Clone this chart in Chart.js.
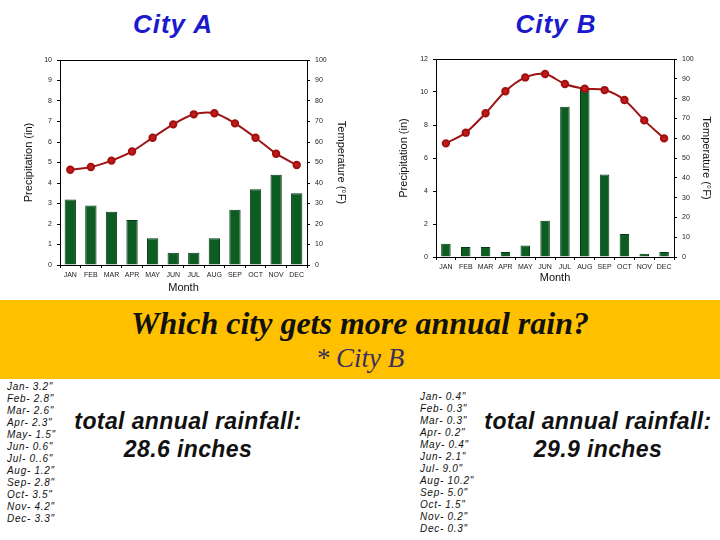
<!DOCTYPE html>
<html>
<head>
<meta charset="utf-8">
<script src="https://cdn.jsdelivr.net/npm/chart.js@4"></script>
<style>
  body { margin: 0; width: 720px; height: 540px; background: #fff; position: relative; overflow: hidden; font-family: "Liberation Sans", Arial, sans-serif; }
  .abs { position: absolute; }
  .city { color: #1a1acc; font-weight: bold; font-style: italic; font-size: 26px; letter-spacing: 1px; width: 200px; text-align: center; top: 9px; }
  #band { left: 0; top: 300px; width: 720px; height: 79px; background: #ffc000; }
  #q { left: 0; width: 720px; top: 305px; text-align: center; font-family: "Liberation Serif", "Times New Roman", serif; font-style: italic; font-weight: bold; font-size: 32px; color: #111; }
  #a { left: 0; width: 720px; top: 343px; text-align: center; font-family: "Liberation Serif", "Times New Roman", serif; font-style: italic; font-size: 27px; color: #3a2f5e; }
  .list { font-style: italic; font-size: 10px; line-height: 12px; letter-spacing: 0.7px; color: #111; }
  .tot { font-size: 23px; font-weight: bold; font-style: italic; letter-spacing: 0.4px; text-align: center; width: 280px; line-height: 28px; color: #111; }
</style>
</head>
<body>
<div class="abs city" style="left:73px">City A</div>
<div class="abs city" style="left:456px">City B</div>

<div class="abs" style="left:20px;top:45px;width:330px;height:250px"><canvas id="chartA"></canvas></div>
<div class="abs" style="left:395px;top:45px;width:320px;height:240px"><canvas id="chartB"></canvas></div>

<div class="abs" id="band"></div>
<div class="abs" id="q">Which city gets more annual rain?</div>
<div class="abs" id="a">* City B</div>

<div class="abs list" id="listA" style="left:7px;top:381px"></div>
<div class="abs tot" style="left:48px;top:407px">total annual rainfall:<br>28.6 inches</div>
<div class="abs list" id="listB" style="left:420px;top:391px"></div>
<div class="abs tot" style="left:458px;top:407px">total annual rainfall:<br>29.9 inches</div>

<script>
const months = ["JAN", "FEB", "MAR", "APR", "MAY", "JUN", "JUL", "AUG", "SEP", "OCT", "NOV", "DEC"];

// City A: precipitation (in) and temperature (F)
const precipA = [3.2, 2.9, 2.6, 2.2, 1.3, 0.6, 0.6, 1.3, 2.7, 3.7, 4.4, 3.5];
const tempA = [46.5, 47.8, 50.9, 55.4, 62.1, 68.6, 73.5, 74.0, 69.1, 62.1, 54.3, 48.8];

// City B
const precipB = [0.8, 0.6, 0.6, 0.3, 0.7, 2.2, 9.1, 10.2, 5.0, 1.4, 0.2, 0.3];
const tempB = [57.4, 62.8, 72.6, 83.7, 90.7, 92.4, 87.4, 85.0, 84.3, 79.3, 69.0, 59.9];

// monthly text lists under the band
const listA = ["Jan- 3.2\"", "Feb- 2.8\"", "Mar- 2.6\"", "Apr- 2.3\"", "May- 1.5\"", "Jun- 0.6\"", "Jul- 0..6\"", "Aug- 1.2\"", "Sep- 2.8\"", "Oct- 3.5\"", "Nov- 4.2\"", "Dec- 3.3\""];
const listB = ["Jan- 0.4\"", "Feb- 0.3\"", "Mar- 0.3\"", "Apr- 0.2\"", "May- 0.4\"", "Jun- 2.1\"", "Jul- 9.0\"", "Aug- 10.2\"", "Sep- 5.0\"", "Oct- 1.5\"", "Nov- 0.2\"", "Dec- 0.3\""];

document.getElementById("listA").innerHTML = listA.join("<br>");
document.getElementById("listB").innerHTML = listB.join("<br>");

const FONT = "'Liberation Sans', Arial, sans-serif";

// draws the top edge of the plot box
const framePlugin = {
  id: "frame",
  afterDraw(chart, args, opts) {
    if (!opts.top) return;
    const a = chart.chartArea, c = chart.ctx;
    c.save();
    c.strokeStyle = "#000";
    c.lineWidth = 1;
    c.beginPath();
    c.moveTo(a.left, a.top + 0.5);
    c.lineTo(a.right, a.top + 0.5);
    c.stroke();
    c.restore();
  }
};

function makeChart(id, precip, temp, cfg) {
  const tickFont = { family: FONT, size: 7 };
  const titleFont = { family: FONT, size: 11 };
  const axisGrid = { drawOnChartArea: false, drawTicks: true, tickLength: 3, color: "#000" };
  new Chart(document.getElementById(id), {
    type: "bar",
    data: {
      labels: months,
      datasets: [
        {
          type: "line",
          data: temp,
          yAxisID: "y1",
          borderColor: "#9c1414",
          borderWidth: 2,
          pointBackgroundColor: "#c41a1a",
          pointBorderColor: "#a01010",
          pointRadius: 3.2,
          tension: 0.3,
          order: 0
        },
        {
          data: precip,
          yAxisID: "y",
          backgroundColor: "#0d5c22",
          borderColor: "#063a14",
          borderWidth: 1,
          barPercentage: cfg.barPct,
          categoryPercentage: 1,
          order: 1
        }
      ]
    },
    options: {
      responsive: true,
      maintainAspectRatio: false,
      animation: false,
      layout: { padding: { top: cfg.top, left: 0, right: 0, bottom: 0 } },
      plugins: { legend: { display: false }, tooltip: { enabled: false }, frame: { top: true } },
      scales: {
        x: {
          grid: axisGrid,
          border: { display: true, color: "#000" },
          ticks: { font: tickFont, color: "#222", padding: 3, maxRotation: 0, autoSkip: false },
          title: { display: true, text: "Month", font: titleFont, color: "#111", padding: 0 },
          afterFit(s) { s.height = cfg.bottom; }
        },
        y: {
          position: "left",
          min: 0, max: cfg.pMax,
          grid: axisGrid,
          border: { display: true, color: "#000" },
          ticks: { stepSize: cfg.pStep, font: tickFont, color: "#222", padding: 5 },
          title: { display: true, text: "Precipitation (in)", font: titleFont, color: "#111", padding: 2 },
          afterFit(s) { s.width = cfg.left; }
        },
        y1: {
          position: "right",
          min: 0, max: 100,
          grid: axisGrid,
          border: { display: true, color: "#000" },
          ticks: { stepSize: 10, font: tickFont, color: "#222", padding: 5 },
          title: { display: true, text: "Temperature (°F)", font: titleFont, color: "#111", padding: 2 },
          afterFit(s) { s.width = cfg.right; }
        }
      }
    },
    plugins: [framePlugin]
  });
}

makeChart("chartA", precipA, tempA, { top: 15, bottom: 30, left: 40, right: 43, pMax: 10, pStep: 1, barPct: 0.55 });
makeChart("chartB", precipB, tempB, { top: 14, bottom: 28, left: 41, right: 41, pMax: 12, pStep: 2, barPct: 0.48 });
</script>
</body>
</html>
